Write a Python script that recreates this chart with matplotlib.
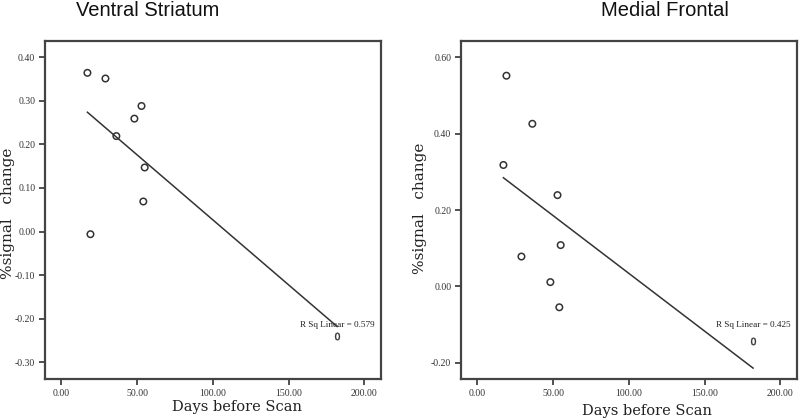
import numpy as np
import matplotlib
matplotlib.use('Agg')
import matplotlib.pyplot as plt

# Days before scan (shared by both regions)
days = [17.2, 19.2, 29.1, 36.3, 48.2, 52.9, 54.1, 55.0, 182.0]

# % signal change per region
ventral_striatum = [0.364, -0.006, 0.351, 0.219, 0.259, 0.288, 0.069, 0.147, -0.239]
medial_frontal = [0.318, 0.552, 0.078, 0.426, 0.011, 0.239, -0.055, 0.108, -0.143]

x_ticks = [0, 50, 100, 150, 200]
vs_ticks = [0.40, 0.30, 0.20, 0.10, 0.00, -0.10, -0.20, -0.30]
mf_ticks = [0.60, 0.40, 0.20, 0.00, -0.20]

SERIF = 'Liberation Serif'
LINE_COLOR = '#333333'


def draw_panel(ax, x, y, yticks, ylim, r2_text, r2_xy):
    x = np.asarray(x)
    y = np.asarray(y)
    # open circles for all but the outlying case (SPSS draws it as a "0")
    ax.scatter(x[:-1], y[:-1], s=22, facecolors='none', edgecolors=LINE_COLOR, linewidths=1.1, zorder=3)
    ax.scatter(x[-1:], y[-1:], s=28, marker='$0$', color=LINE_COLOR, linewidths=0.3, zorder=3)

    slope, intercept = np.polyfit(x, y, 1)
    xs = np.array([x.min(), x.max()])
    ax.plot(xs, slope * xs + intercept, color=LINE_COLOR, linewidth=1.1)

    ax.text(r2_xy[0], r2_xy[1], r2_text, fontsize=6.6, family=SERIF, color='#222222', ha='center', va='center')

    ax.set_xlim(-10.8, 211)
    ax.set_ylim(*ylim)
    ax.set_xticks(x_ticks)
    ax.set_xticklabels([f'{t:.2f}' for t in x_ticks])
    ax.set_yticks(yticks)
    ax.set_yticklabels([f'{t:.2f}' for t in yticks])
    ax.tick_params(direction='out', length=4, width=1.2, color=LINE_COLOR,
                   labelsize=7, labelcolor='#333333', pad=3)
    for lab in ax.get_xticklabels() + ax.get_yticklabels():
        lab.set_family(SERIF)
    for sp in ax.spines.values():
        sp.set_linewidth(1.6)
        sp.set_color('#444444')


fig = plt.figure(figsize=(8, 4.2), dpi=100)

ax1 = fig.add_axes([45 / 800, 1 - 379 / 420, 336 / 800, 338 / 420])
draw_panel(ax1, days, ventral_striatum, vs_ticks, (-0.338, 0.437),
           'R Sq Linear = 0.579', (182, -0.215))

ax2 = fig.add_axes([461 / 800, 1 - 379 / 420, 336 / 800, 338 / 420])
draw_panel(ax2, days, medial_frontal, mf_ticks, (-0.243, 0.643),
           'R Sq Linear = 0.425', (182, -0.102))

# titles
fig.text(148 / 800, 1 - 11 / 420, 'Ventral Striatum', fontsize=14.5, family='Liberation Sans',
         ha='center', va='center', color='#111111')
fig.text(665 / 800, 1 - 11 / 420, 'Medial Frontal', fontsize=14.5, family='Liberation Sans',
         ha='center', va='center', color='#111111')

# axis labels
for xc, yc in [(237, 407), (647, 411)]:
    fig.text(xc / 800, 1 - yc / 420, 'Days before Scan', fontsize=10.5, family='DejaVu Serif',
             ha='center', va='center', color='#222222')
for xc, yc in [(8, 213), (420, 208)]:
    fig.text(xc / 800, 1 - yc / 420, '%signal   change', fontsize=11, family='DejaVu Serif',
             rotation=90, ha='center', va='center', color='#222222')

fig.savefig('out.png', dpi=100)
